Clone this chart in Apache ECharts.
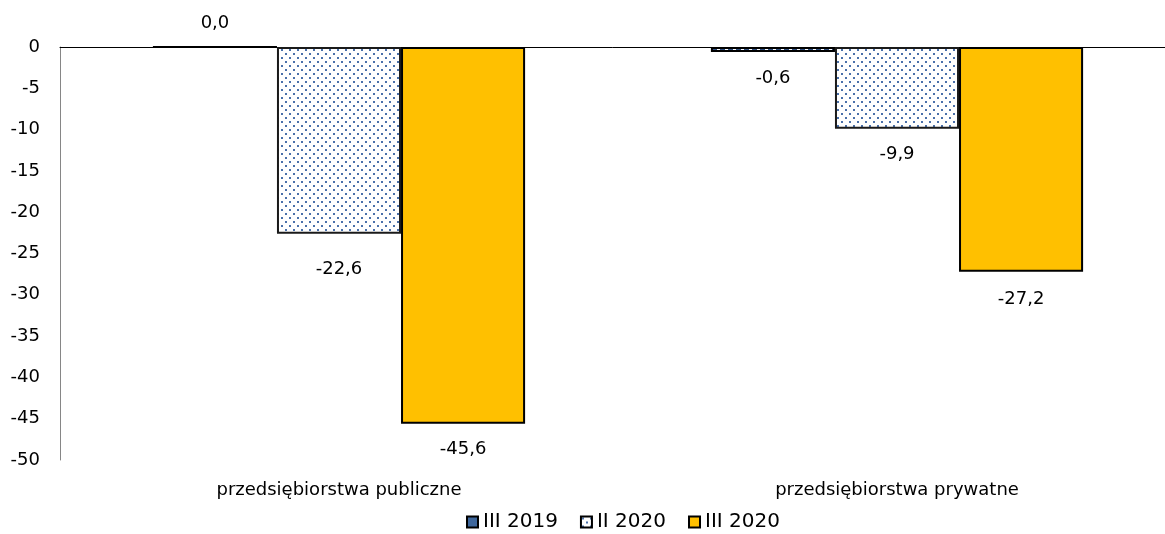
<!DOCTYPE html>
<html><head><meta charset="utf-8">
<script src="https://cdn.jsdelivr.net/npm/echarts@6/dist/echarts.min.js"></script>
<style>html,body{margin:0;padding:0;background:#fff}#c{width:1165px;height:534px}</style>
</head><body><div id="c"></div>
<script>
const categories = ['przedsiębiorstwa publiczne', 'przedsiębiorstwa prywatne'];
const seriesNames = ['III 2019', 'II 2020', 'III 2020'];
const s2019_3 = [0.0, -0.6];
const s2020_2 = [-22.6, -9.9];
const s2020_3 = [-45.6, -27.2];
const yTicks = [0, -5, -10, -15, -20, -25, -30, -35, -40, -45, -50];

const FONT = 'DejaVu Sans';
const FS = 18;

function dotPattern() {
  const c = document.createElement('canvas');
  c.width = 8; c.height = 8;
  const g = c.getContext('2d');
  g.fillStyle = '#fff'; g.fillRect(0, 0, 8, 8);
  g.fillStyle = '#4a70aa';
  g.fillRect(1, 1, 2, 2);
  g.fillRect(5, 5, 2, 2);
  return c;
}
function dashPattern() {
  const c = document.createElement('canvas');
  c.width = 8; c.height = 4;
  const g = c.getContext('2d');
  g.fillStyle = '#fff'; g.fillRect(0, 0, 8, 4);
  g.fillStyle = '#2f4f80';
  g.fillRect(0, 0, 5, 4);
  return c;
}

function fmt(v) { return v.toFixed(1).replace('.', ','); }
function mkData(arr, extra) {
  return arr.map((v, i) => ({
    value: v,
    label: v >= 0
      ? { position: 'top', distance: 14 }
      : { position: 'bottom', distance: 17 + ((extra && extra[i]) || 0) }
  }));
}

const chart = echarts.init(document.getElementById('c'));
const labelCfg = {
  show: true, distance: 17, color: '#000', fontFamily: FONT, fontSize: FS,
  formatter: p => fmt(p.value)
};
const common = { type: 'bar', barGap: '0%', barCategoryGap: '33.3%', label: labelCfg };

chart.setOption({
  animation: false,
  textStyle: { fontFamily: FONT },
  grid: { left: 60, top: 47, bottom: 74, width: 1116, containLabel: false, outerBoundsMode: 'none' },
  legend: {
    bottom: 2, left: 466, padding: 0, itemWidth: 11, itemHeight: 11, itemGap: 22,
    textStyle: { fontFamily: FONT, fontSize: 20, color: '#000' },
    data: seriesNames.map((n, i) => ({
      name: n,
      icon: 'rect',
      itemStyle: { borderColor: '#000', borderWidth: 2,
        color: i === 0 ? '#3f679c' : i === 1 ? { image: dotPattern(), repeat: 'repeat' } : '#ffc000' }
    }))
  },
  xAxis: [{
    type: 'category', data: categories, position: 'bottom',
    axisLine: { show: false, onZero: false }, axisTick: { show: false },
    axisLabel: { color: '#000', fontSize: FS, fontFamily: FONT, margin: 21 }
  }, {
    type: 'category', data: categories, position: 'top',
    axisLine: { show: true, onZero: false, lineStyle: { color: '#000', width: 1 } },
    axisTick: { show: false }, axisLabel: { show: false }
  }],
  yAxis: {
    type: 'value', min: -50, max: 0, interval: 5,
    axisLine: { show: true, lineStyle: { color: '#868686' } },
    axisTick: { show: false }, splitLine: { show: false },
    axisLabel: { color: '#000', fontSize: FS, fontFamily: FONT, margin: 20, padding: [4, 0, 0, 0] }
  },
  series: [
    Object.assign({}, common, { name: seriesNames[0], data: mkData(s2019_3),
      itemStyle: { color: { image: dashPattern(), repeat: 'repeat' }, borderColor: '#000', borderWidth: 2 } }),
    Object.assign({}, common, { name: seriesNames[1], data: mkData(s2020_2, [10, 0]),
      itemStyle: { color: { image: dotPattern(), repeat: 'repeat' }, borderColor: '#1a1a1a', borderWidth: 2 } }),
    Object.assign({}, common, { name: seriesNames[2], data: mkData(s2020_3, [0, 2]),
      itemStyle: { color: '#ffc000', borderColor: '#000', borderWidth: 2 } })
  ]
});
</script></body></html>
